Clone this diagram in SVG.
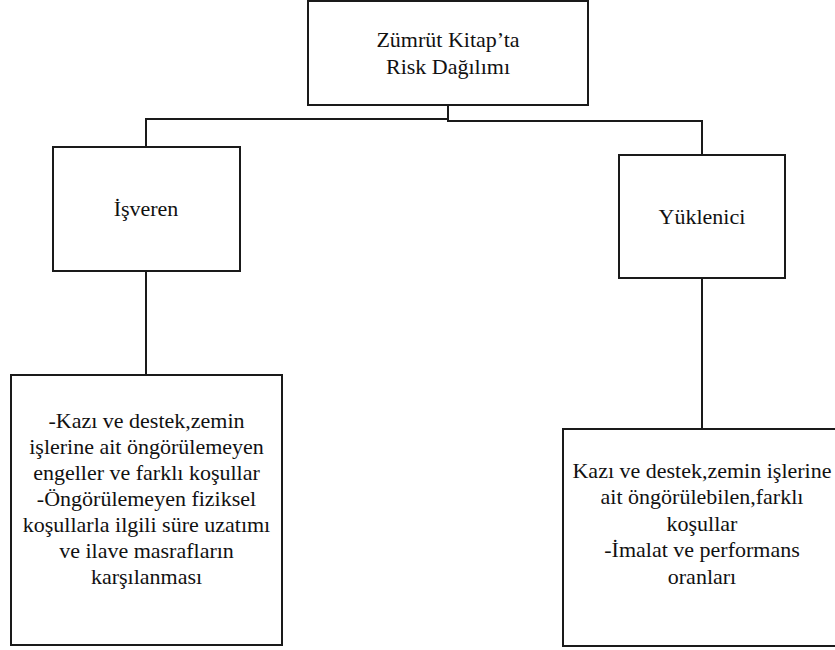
<svg xmlns="http://www.w3.org/2000/svg" width="835" height="650" viewBox="0 0 835 650">
  <style>
    .box { fill: #ffffff; stroke: #1a1a1a; stroke-width: 2; }
    .wire { fill: none; stroke: #1a1a1a; stroke-width: 2; }
    text { font-family: 'Liberation Serif', 'Times New Roman', Times, serif; font-size: 22px; fill: #111111; text-anchor: middle; }
  </style>
  <rect width="835" height="650" fill="#ffffff"/>

  <!-- connectors -->
  <g id="connectors">
    <polyline class="wire" points="448,105 448,121 702,121 702,155"/>
    <polyline class="wire" points="448,119 146,119 146,147"/>
    <line class="wire" x1="146" y1="271" x2="146" y2="375"/>
    <line class="wire" x1="702" y1="278" x2="702" y2="429"/>
  </g>

  <!-- root -->
  <g id="node-root">
    <rect class="box" x="308" y="1" width="280" height="104"/>
    <text x="448" y="47">Zümrüt Kitap’ta</text>
    <text x="448" y="74">Risk Dağılımı</text>
  </g>

  <!-- employer -->
  <g id="node-isveren">
    <rect class="box" x="53" y="147" width="187" height="124"/>
    <text x="146" y="216">İşveren</text>
  </g>

  <!-- contractor -->
  <g id="node-yuklenici">
    <rect class="box" x="619" y="155" width="166" height="123"/>
    <text x="702" y="224">Yüklenici</text>
  </g>

  <!-- employer risks -->
  <g id="node-isveren-risks">
    <rect class="box" x="11" y="375" width="271" height="270"/>
    <text x="146.5" y="428">-Kazı ve destek,zemin</text>
    <text x="146.5" y="454">işlerine ait öngörülemeyen</text>
    <text x="146.5" y="480">engeller ve farklı koşullar</text>
    <text x="146.5" y="506">-Öngörülemeyen fiziksel</text>
    <text x="146.5" y="532">koşullarla ilgili süre uzatımı</text>
    <text x="146.5" y="558">ve ilave masrafların</text>
    <text x="146.5" y="584">karşılanması</text>
  </g>

  <!-- contractor risks -->
  <g id="node-yuklenici-risks">
    <rect class="box" x="563" y="429" width="280" height="217"/>
    <text x="702" y="478">Kazı ve destek,zemin işlerine</text>
    <text x="702" y="504">ait öngörülebilen,farklı</text>
    <text x="702" y="531">koşullar</text>
    <text x="702" y="557">-İmalat ve performans</text>
    <text x="702" y="584">oranları</text>
  </g>
</svg>
